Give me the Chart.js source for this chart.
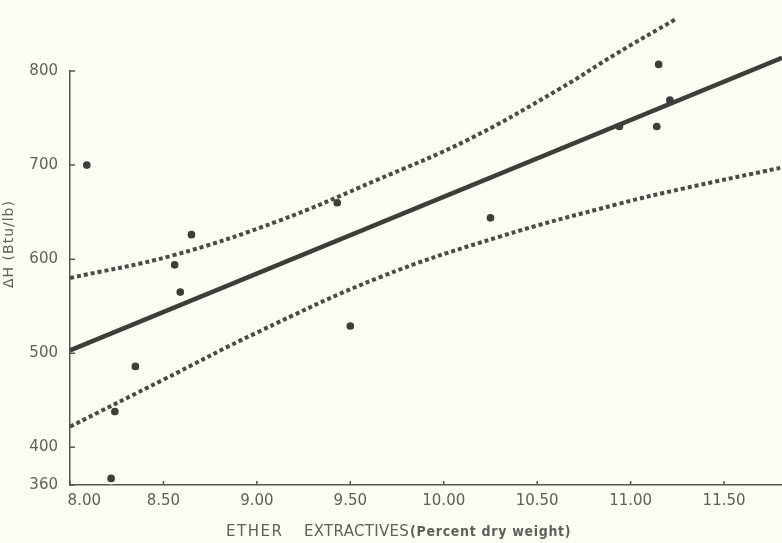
<!DOCTYPE html>
<html>
<head>
<meta charset="utf-8">
<script src="https://cdn.jsdelivr.net/npm/chart.js@4/dist/chart.umd.min.js"></script>
<style>
  html, body { margin: 0; padding: 0; background: #fcfcf3; }
  #wrap { width: 782px; height: 543px; position: relative; }
</style>
</head>
<body>
<div id="wrap"><canvas id="c"></canvas></div>
<script>
// ---- data ----
const pointX = [8.09, 8.22, 8.24, 8.35, 8.56, 8.59, 8.65, 9.43, 9.50, 10.25, 10.94, 11.14, 11.15, 11.21];
const pointY = [700, 367, 438, 486, 594, 565, 626, 660, 529, 644, 741, 741, 807, 769];

const fitX = [8.00, 11.81];
const fitY = [503, 814];

const upperX = [8.00, 8.55, 9.12, 9.64, 10.13, 10.62, 10.92, 11.24];
const upperY = [580, 604, 641, 684, 727, 781, 818, 855];

const lowerX = [8.00, 8.50, 9.00, 9.66, 10.30, 10.94, 11.28, 11.80];
const lowerY = [422, 472, 522, 581, 624, 659, 675, 697];

const xTicks = [8.00, 8.50, 9.00, 9.50, 10.00, 10.50, 11.00, 11.50];
const yTicks = [360, 400, 500, 600, 700, 800];

const xTitleParts = ['ETHER', 'EXTRACTIVES', '(Percent dry weight)'];
const yTitle = 'ΔH (Btu/lb)';

// ---- helpers ----
const pairs = (xs, ys) => xs.map((x, i) => ({ x: x, y: ys[i] }));
const BG = '#fcfcf3';
const INK = '#3d3d3a';
const TXT = '#5f5f5c';

function spaced(ctx, s) {
  try { ctx.letterSpacing = s; } catch (e) {}
}

const decor = {
  id: 'decor',
  beforeDraw(chart) {
    const ctx = chart.ctx;
    ctx.save();
    ctx.fillStyle = BG;
    ctx.fillRect(0, 0, chart.width, chart.height);
    ctx.restore();
  },
  afterDraw(chart) {
    const { ctx, scales: { x, y } } = chart;
    ctx.save();
    ctx.strokeStyle = '#555552';
    ctx.lineWidth = 1.5;
    ctx.beginPath();
    yTicks.forEach(v => {
      const py = y.getPixelForValue(v);
      ctx.moveTo(x.left, py);
      ctx.lineTo(x.left + 5, py);
    });
    xTicks.forEach(v => {
      const px = x.getPixelForValue(v);
      ctx.moveTo(px, y.bottom);
      ctx.lineTo(px, y.bottom - 4);
    });
    ctx.stroke();

    // y title (rotated)
    ctx.fillStyle = TXT;
    ctx.save();
    ctx.translate(9, 244);
    ctx.rotate(-Math.PI / 2);
    ctx.textAlign = 'center';
    ctx.textBaseline = 'middle';
    ctx.font = '14px "DejaVu Sans"';
    spaced(ctx, '1px');
    ctx.fillText(yTitle, 0, 0);
    ctx.restore();

    // x title
    ctx.textBaseline = 'middle';
    ctx.textAlign = 'left';
    const ty = 532;
    ctx.font = '15px "DejaVu Sans"';
    spaced(ctx, '1.5px');
    ctx.fillText(xTitleParts[0], 226, ty);
    spaced(ctx, '0.3px');
    ctx.fillText(xTitleParts[1], 304, ty);
    const endX = 304 + ctx.measureText(xTitleParts[1]).width;
    ctx.font = 'bold 14px "DejaVu Sans Condensed", "Liberation Sans Narrow", sans-serif';
    spaced(ctx, '0.7px');
    ctx.fillText(xTitleParts[2], endX + 1, ty);
    ctx.restore();
  }
};

const lineBase = {
  type: 'scatter',
  showLine: true,
  pointRadius: 0,
  pointHoverRadius: 0,
  clip: false,
  fill: false
};

new Chart(document.getElementById('c'), {
  type: 'scatter',
  data: {
    datasets: [
      Object.assign({}, lineBase, {
        label: 'upper',
        data: pairs(upperX, upperY),
        borderColor: '#4a4a47',
        borderWidth: 4,
        borderDash: [4, 3],
        borderCapStyle: 'butt',
        tension: 0.4
      }),
      Object.assign({}, lineBase, {
        label: 'lower',
        data: pairs(lowerX, lowerY),
        borderColor: '#4a4a47',
        borderWidth: 4,
        borderDash: [4, 3],
        borderCapStyle: 'butt',
        tension: 0.4
      }),
      Object.assign({}, lineBase, {
        label: 'fit',
        data: pairs(fitX, fitY),
        borderColor: INK,
        borderWidth: 4.5,
        borderCapStyle: 'butt'
      }),
      {
        label: 'points',
        data: pairs(pointX, pointY),
        pointRadius: 5,
        pointHoverRadius: 5,
        backgroundColor: INK,
        borderColor: BG,
        borderWidth: 2.3,
        clip: false
      }
    ]
  },
  options: {
    responsive: true,
    maintainAspectRatio: false,
    animation: false,
    events: [],
    layout: { autoPadding: false, padding: { top: 71, left: 0, right: 0, bottom: 0 } },
    plugins: {
      legend: { display: false },
      tooltip: { enabled: false },
      title: { display: false }
    },
    scales: {
      x: {
        type: 'linear',
        min: 8,
        max: 11.81,
        afterBuildTicks: s => { s.ticks = xTicks.map(v => ({ value: v })); },
        afterFit: s => { s.height = 58; s.paddingLeft = 0; s.paddingRight = 0; },
        grid: { display: false, drawTicks: false },
        border: { display: true, color: '#555552', width: 1.5 },
        ticks: {
          padding: 7,
          maxRotation: 0,
          autoSkip: false,
          color: TXT,
          font: { family: '"DejaVu Sans"', size: 15 },
          callback: v => (v === 8 ? '\u2007\u2007\u2007' : '') + v.toFixed(2)
        }
      },
      y: {
        type: 'linear',
        min: 360,
        max: 800,
        afterBuildTicks: s => { s.ticks = yTicks.map(v => ({ value: v })); },
        afterFit: s => { s.width = 70; s.paddingTop = 0; s.paddingBottom = 0; },
        grid: { display: false, drawTicks: false },
        border: { display: true, color: '#555552', width: 1.5 },
        ticks: {
          padding: 12,
          autoSkip: false,
          color: TXT,
          font: { family: '"DejaVu Sans"', size: 15 },
          callback: v => String(v)
        }
      }
    }
  },
  plugins: [decor]
});
</script>
</body>
</html>
